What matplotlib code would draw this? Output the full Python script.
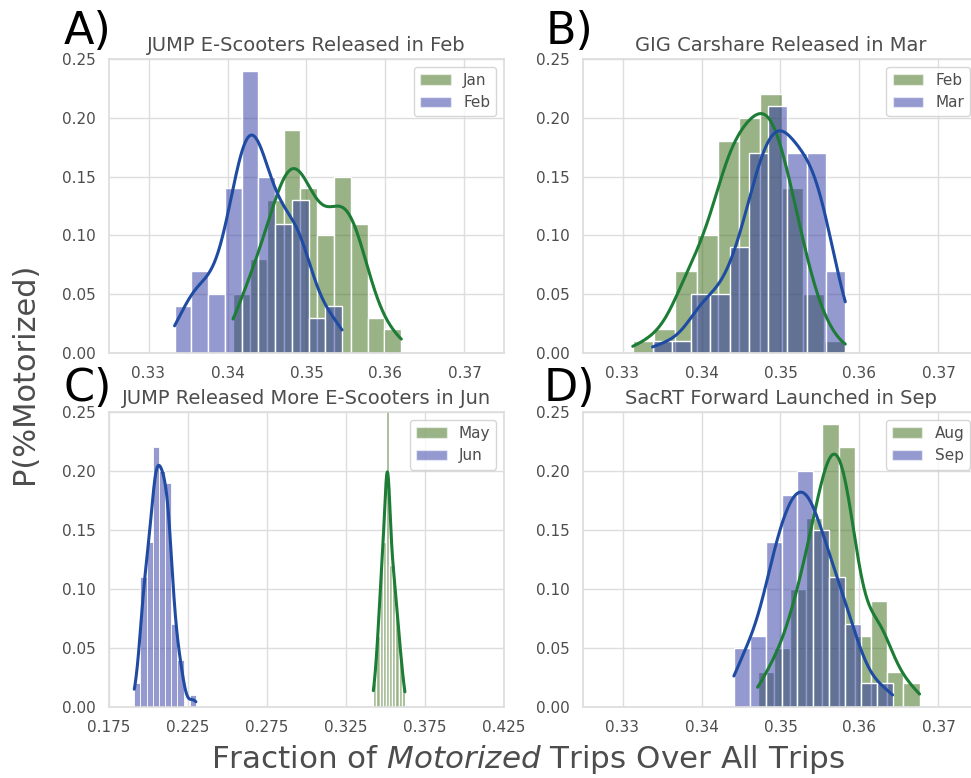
import numpy as np
import matplotlib
matplotlib.use("Agg")
import matplotlib.pyplot as plt
from matplotlib.patches import Patch
import seaborn as sns

sns.set_theme(style="whitegrid")
plt.rcParams['font.family'] = ['DejaVu Sans']
plt.rcParams['mathtext.fontset'] = 'dejavusans'

N_SAMPLES = 100

# ---- Data (range of each month's values and per-bin probability, 10 bins) ----
a_jan_range = (0.3407, 0.3620)
a_jan_prob = [0.05, 0.08, 0.13, 0.19, 0.14, 0.10, 0.15, 0.11, 0.03, 0.02]
a_feb_range = (0.3333, 0.3545)
a_feb_prob = [0.04, 0.07, 0.05, 0.14, 0.24, 0.15, 0.11, 0.13, 0.03, 0.04]

b_feb_range = (0.3313, 0.3582)
b_feb_prob = [0.01, 0.02, 0.07, 0.10, 0.18, 0.20, 0.22, 0.14, 0.05, 0.01]
b_mar_range = (0.3338, 0.3582)
b_mar_prob = [0.01, 0.01, 0.05, 0.05, 0.09, 0.17, 0.21, 0.17, 0.17, 0.07]

c_may_range = (0.3423, 0.3623)
c_may_prob = [0.02, 0.06, 0.12, 0.14, 0.27, 0.12, 0.12, 0.08, 0.05, 0.02]
c_jun_range = (0.1910, 0.2300)
c_jun_prob = [0.02, 0.11, 0.14, 0.22, 0.20, 0.19, 0.07, 0.04, 0.00, 0.01]

d_aug_range = (0.3471, 0.3676)
d_aug_prob = [0.03, 0.05, 0.10, 0.16, 0.24, 0.22, 0.06, 0.09, 0.03, 0.02]
d_sep_range = (0.3441, 0.3642)
d_sep_prob = [0.05, 0.06, 0.14, 0.18, 0.20, 0.15, 0.11, 0.07, 0.02, 0.02]

titles = ["JUMP E-Scooters Released in Feb", "GIG Carshare Released in Mar",
          "JUMP Released More E-Scooters in Jun", "SacRT Forward Launched in Sep"]
panel_letters = ["A)", "B)", "C)", "D)"]
month_labels = [("Jan", "Feb"), ("Feb", "Mar"), ("May", "Jun"), ("Aug", "Sep")]
narrow_ticks = [0.33, 0.34, 0.35, 0.36, 0.37]
wide_ticks = [0.175, 0.225, 0.275, 0.325, 0.375, 0.425]
y_ticks = [0.00, 0.05, 0.10, 0.15, 0.20, 0.25]

panels = [
    (a_jan_range, a_jan_prob, a_feb_range, a_feb_prob),
    (b_feb_range, b_feb_prob, b_mar_range, b_mar_prob),
    (c_may_range, c_may_prob, c_jun_range, c_jun_prob),
    (d_aug_range, d_aug_prob, d_sep_range, d_sep_prob),
]

GREEN_BAR = "#34660e"
BLUE_BAR = "#2a34a2"
GREEN_LINE = "#1d7c35"
BLUE_LINE = "#1f4ca2"
BAR_ALPHA = 0.5
TXT = "0.3"

W, H = 971, 778
fig = plt.figure(figsize=(W / 100, H / 100), dpi=100)

def frac_box(left, top, right, bottom):
    return [left / W, 1 - bottom / H, (right - left) / W, (bottom - top) / H]

boxes = [frac_box(109, 59, 504, 353), frac_box(583, 59, 978, 353),
         frac_box(109, 412, 504, 707), frac_box(583, 412, 978, 707)]
letter_pos = [(64, 44), (546, 44), (64, 401), (544, 401)]


def draw_hist(ax, rng, prob, bar_color, line_color):
    edges = np.linspace(rng[0], rng[1], len(prob) + 1)
    centers = (edges[:-1] + edges[1:]) / 2
    counts = np.round(np.array(prob) * N_SAMPLES).astype(int)
    samples = np.repeat(centers, counts)
    n_before = len(ax.lines)
    sns.histplot(x=samples, bins=edges, stat="probability", kde=True,
                 color=bar_color, alpha=BAR_ALPHA, ax=ax,
                 kde_kws={"cut": 5, "clip": (edges[0], edges[-1])},
                 line_kws={"linewidth": 2.2})
    for ln in ax.lines[n_before:]:
        ln.set_color(line_color)
        ln.set_zorder(4)


for i, (rng1, p1, rng2, p2) in enumerate(panels):
    ax = fig.add_axes(boxes[i])
    draw_hist(ax, rng1, p1, GREEN_BAR, GREEN_LINE)
    draw_hist(ax, rng2, p2, BLUE_BAR, BLUE_LINE)
    if i == 2:
        ax.set_xlim(0.175, 0.425)
        ax.set_xticks(wide_ticks)
    else:
        ax.set_xlim(0.325, 0.375)
        ax.set_xticks(narrow_ticks)
    ax.set_ylim(0, 0.25)
    ax.set_yticks(y_ticks)
    ax.yaxis.set_major_formatter(matplotlib.ticker.FormatStrFormatter('%.2f'))
    ax.set_ylabel("")
    ax.set_xlabel("")
    ax.tick_params(labelsize=11, labelcolor=TXT)
    ax.set_title(titles[i], fontsize=14, color=TXT)
    for s in ax.spines.values():
        s.set_color("#dddddd")
    ax.grid(color="#dddddd")
    handles = [Patch(facecolor=GREEN_BAR, alpha=BAR_ALPHA, label=month_labels[i][0]),
               Patch(facecolor=BLUE_BAR, alpha=BAR_ALPHA, label=month_labels[i][1])]
    leg = ax.legend(handles=handles, loc="upper right", fontsize=11)
    for t in leg.get_texts():
        t.set_color(TXT)
    lx, ly = letter_pos[i]
    fig.text(lx / W, 1 - ly / H, panel_letters[i], fontsize=32, color="black",
             va="baseline", ha="left")

fig.text(25 / W, 1 - 373 / H, "P(%Motorized)", rotation=90, fontsize=22,
         va="center", ha="center", color=TXT)
fig.text(528 / W, 1 - 760 / H, r"Fraction of $\it{Motorized}$ Trips Over All Trips",
         fontsize=22.3, va="center", ha="center", color=TXT)

fig.savefig("out.png", dpi=100)
